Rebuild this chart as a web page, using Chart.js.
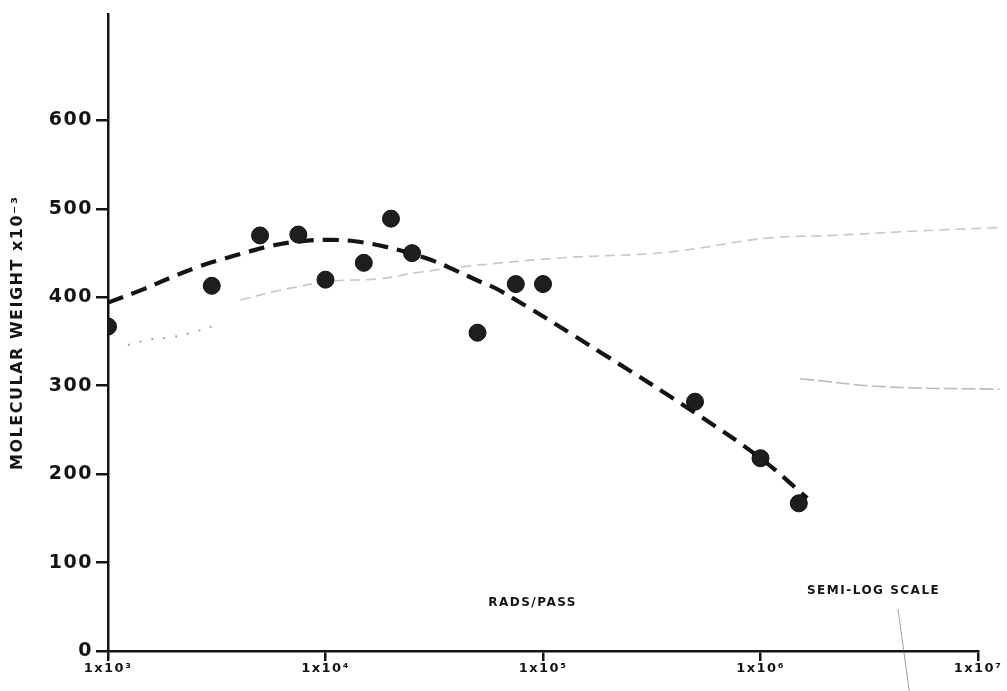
<!DOCTYPE html>
<html>
<head>
<meta charset="utf-8">
<script src="https://cdn.jsdelivr.net/npm/chart.js@4.4.1/dist/chart.umd.min.js"></script>
<style>
  html, body { margin: 0; padding: 0; background: #ffffff; }
  #wrap { width: 1007px; height: 691px; position: relative; }
</style>
</head>
<body>
<div id="wrap"><canvas id="chart" width="1007" height="691"></canvas></div>
<script>
// Axis ticks
const doseTicks = [1e3, 1e4, 1e5, 1e6, 1e7];
const doseTickLabels = ['1x10³', '1x10⁴', '1x10⁵', '1x10⁶', '1x10⁷'];
const weightTicks = [0, 100, 200, 300, 400, 500, 600];

// Measured molecular weight (x10^-3) against dose per pass
const doseRads = [1000, 3000, 5000, 7500, 10000, 15000, 20000, 25000, 50000, 75000, 100000, 500000, 1000000, 1500000];
const molWeight = [367, 413, 470, 471, 420, 439, 489, 450, 360, 415, 415, 282, 218, 167];

// Hand-drawn trend curve (dashed)
const trendDose = [1000, 1450, 1930, 2560, 3340, 4350, 5560, 7400, 10800, 15000, 21300, 30000, 40000, 50000, 63000, 189000, 510000, 1000000, 1640000];
const trendWeight = [394, 409, 422, 434, 443, 451, 458, 463, 465, 462, 454, 443, 430, 419, 408, 336, 268, 218, 173];

// Faint grey traces on the sheet
const faintUpperDose = [4050, 6200, 10500, 17800, 26400, 53000, 129000, 372000, 1070000, 2150000, 5250000, 12600000];
const faintUpperWeight = [397, 408, 418, 421, 428, 437, 445, 451, 467, 470, 475, 479];
const faintLowerDose = [1520000, 3660000, 12600000];
const faintLowerWeight = [308, 299, 296];
const faintLeftDose = [1235, 1530, 1970, 2510, 3270];
const faintLeftWeight = [346, 352, 355, 361, 370];

const ink = '#141414';
const FONT = "'DejaVu Sans', 'Liberation Sans', sans-serif";

const pairs = (xs, ys) => xs.map((x, i) => ({ x: x, y: ys[i] }));

// Annotation text drawn inside the plot area
const annotations = {
  id: 'annotations',
  beforeDraw(chart) {
    chart.ctx.letterSpacing = '1.5px';
  },
  afterDraw(chart) {
    const { ctx, chartArea: a } = chart;
    const w = a.right - a.left, h = a.bottom - a.top;
    ctx.save();
    ctx.fillStyle = ink;
    ctx.textAlign = 'center';
    ctx.textBaseline = 'middle';
    ctx.font = 'bold 12px ' + FONT;
    ctx.letterSpacing = '1.5px';
    ctx.fillText('RADS/PASS', a.left + w * 0.488, a.bottom - h * 0.075);
    ctx.fillText('SEMI-LOG SCALE', a.left + w * 0.88, a.bottom - h * 0.095);
    // leader line from the scale note down past the axis
    ctx.strokeStyle = 'rgba(80,80,80,0.55)';
    ctx.lineWidth = 1;
    ctx.beginPath();
    ctx.moveTo(a.left + w * 0.908, a.bottom - h * 0.066);
    ctx.lineTo(a.left + w * 0.921, chart.height);
    ctx.stroke();
    ctx.restore();
  }
};

new Chart(document.getElementById('chart'), {
  type: 'scatter',
  data: {
    datasets: [
      {
        label: 'Molecular weight',
        data: pairs(doseRads, molWeight),
        showLine: false,
        pointRadius: 8.5,
        pointBackgroundColor: '#1e1e1e',
        pointBorderColor: '#0e0e0e',
        pointBorderWidth: 1,
        order: 0
      },
      {
        label: 'Trend',
        data: pairs(trendDose, trendWeight),
        showLine: true,
        borderColor: ink,
        borderWidth: 4.2,
        borderDash: [16, 9],
        tension: 0.4,
        pointRadius: 0,
        order: 1
      },
      {
        label: 'Upper trace',
        data: pairs(faintUpperDose, faintUpperWeight),
        showLine: true,
        borderColor: 'rgba(95,95,95,0.35)',
        borderWidth: 1.6,
        borderDash: [10, 6],
        tension: 0.4,
        pointRadius: 0,
        clip: false,
        order: 2
      },
      {
        label: 'Lower trace',
        data: pairs(faintLowerDose, faintLowerWeight),
        showLine: true,
        borderColor: 'rgba(95,95,95,0.42)',
        borderWidth: 1.6,
        borderDash: [14, 4],
        tension: 0.4,
        pointRadius: 0,
        clip: false,
        order: 3
      },
      {
        label: 'Left trace',
        data: pairs(faintLeftDose, faintLeftWeight),
        showLine: true,
        borderColor: 'rgba(80,80,80,0.5)',
        borderWidth: 2,
        borderDash: [2, 10],
        tension: 0.4,
        pointRadius: 0,
        order: 4
      }
    ]
  },
  options: {
    responsive: false,
    animation: false,
    devicePixelRatio: 1,
    layout: { padding: { top: 12, right: 29, left: 0, bottom: 0 } },
    plugins: {
      legend: { display: false },
      tooltip: { enabled: false }
    },
    scales: {
      x: {
        type: 'logarithmic',
        position: 'bottom',
        min: doseTicks[0],
        max: doseTicks[doseTicks.length - 1],
        afterBuildTicks: (scale) => { scale.ticks = doseTicks.map(v => ({ value: v })); },
        afterFit: (scale) => { scale.height = 40; },
        ticks: {
          autoSkip: false,
          maxRotation: 0,
          padding: 0,
          color: ink,
          font: { family: FONT, weight: 'bold', size: 13 },
          callback: (value, index) => doseTickLabels[index]
        },
        grid: { drawOnChartArea: false, drawTicks: true, tickLength: 10, color: ink, lineWidth: 2.5 },
        border: { display: true, color: ink, width: 2.5 }
      },
      y: {
        min: 0,
        max: 720,
        afterBuildTicks: (scale) => { scale.ticks = weightTicks.map(v => ({ value: v })); },
        afterFit: (scale) => { scale.width = 108; },
        ticks: {
          padding: 3,
          color: ink,
          font: { family: FONT, weight: 'bold', size: 19 },
          callback: (value) => String(value)
        },
        grid: { drawOnChartArea: false, drawTicks: true, tickLength: 12, color: ink, lineWidth: 2.5 },
        border: { display: true, color: ink, width: 2.5 },
        title: {
          display: true,
          text: 'MOLECULAR WEIGHT x10⁻³',
          color: ink,
          font: { family: FONT, weight: 'bold', size: 16 },
          padding: { top: 8, bottom: 0 }
        }
      }
    }
  },
  plugins: [annotations]
});
</script>
</body>
</html>
